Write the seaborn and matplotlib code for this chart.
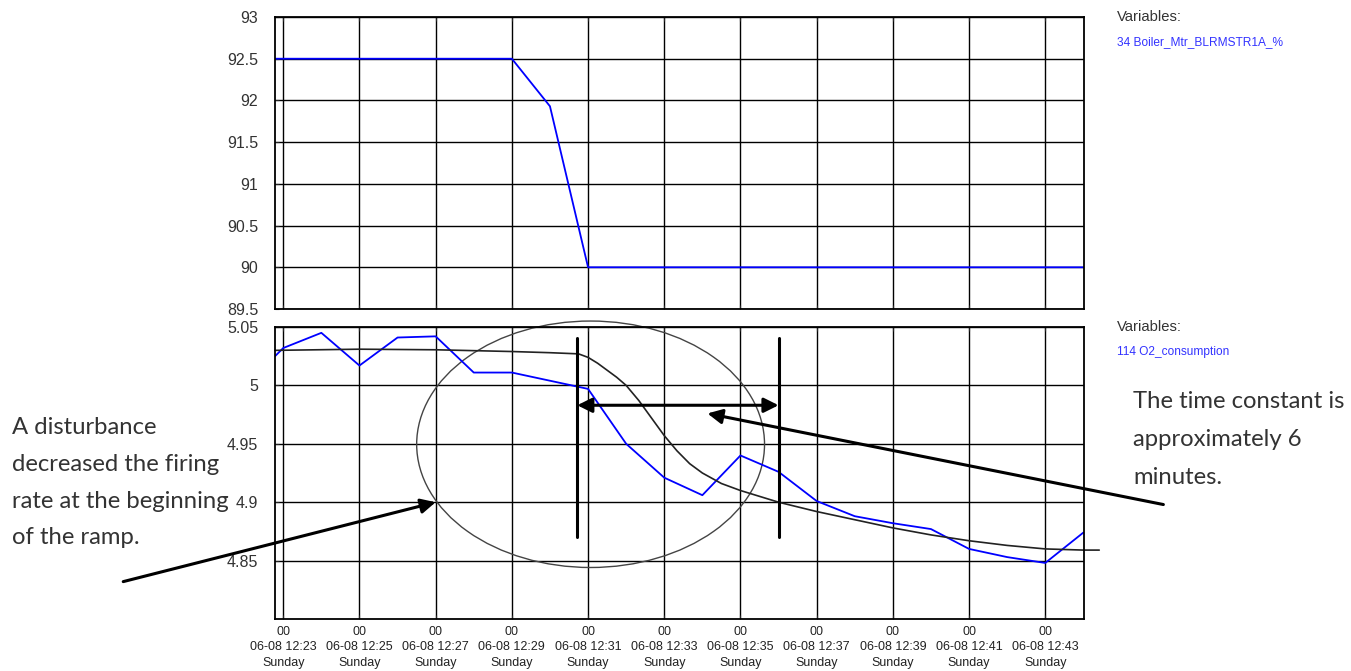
import pandas as pd
import matplotlib.pyplot as plt
import matplotlib.dates as mdates
from matplotlib.patches import Ellipse
import seaborn as sns

# sample times (one per minute, plus the left edge of the trend window)
sample_times = ["12:22:47", "12:23", "12:24", "12:25", "12:26", "12:27", "12:28", "12:29",
                "12:30", "12:31", "12:32", "12:33", "12:34", "12:35", "12:36", "12:37",
                "12:38", "12:39", "12:40", "12:41", "12:42", "12:43", "12:44"]
firing_rate = [92.5, 92.5, 92.5, 92.5, 92.5, 92.5, 92.5, 92.5,
               91.93, 90.0, 90.0, 90.0, 90.0, 90.0, 90.0, 90.0,
               90.0, 90.0, 90.0, 90.0, 90.0, 90.0, 90.0]
o2_consumption = [5.025, 5.032, 5.045, 5.017, 5.041, 5.042, 5.011, 5.011,
                  5.004, 4.997, 4.950, 4.921, 4.906, 4.940, 4.926, 4.901,
                  4.888, 4.882, 4.877, 4.860, 4.853, 4.848, 4.874]

# hand-drawn first-order response overlaid on the O2 trend
fit_times = ["12:22:47", "12:25", "12:27", "12:29", "12:30", "12:30:45", "12:31", "12:31:15",
             "12:31:30", "12:31:45", "12:32", "12:32:20", "12:32:40", "12:33", "12:33:20",
             "12:33:40", "12:34", "12:34:30", "12:35", "12:35:30", "12:36", "12:37", "12:38",
             "12:39", "12:40", "12:41", "12:42", "12:43", "12:44", "12:44:25"]
fit_values = [5.030, 5.031, 5.0305, 5.029, 5.028, 5.027, 5.024, 5.019,
              5.013, 5.007, 5.000, 4.987, 4.972, 4.957, 4.944,
              4.933, 4.925, 4.916, 4.910, 4.905, 4.900, 4.892, 4.885,
              4.878, 4.872, 4.867, 4.863, 4.860, 4.859, 4.859]

top_label = "34 Boiler_Mtr_BLRMSTR1A_%"
bottom_label = "114 O2_consumption"
left_note = ["A disturbance", "decreased the firing", "rate at the beginning", "of the ramp."]
right_note = ["The time constant is", "approximately 6", "minutes."]

DAY = "2014-06-08 "


def ts(t):
    return pd.Timestamp(DAY + t)


df = pd.DataFrame({"time": [ts(t) for t in sample_times],
                   "firing": firing_rate, "o2": o2_consumption})
fit_df = pd.DataFrame({"time": [ts(t) for t in fit_times], "fit": fit_values})

sns.set_style("white")
plt.rcParams["font.family"] = ["Liberation Sans", "DejaVu Sans"]

W, H = 1351, 671
fig = plt.figure(figsize=(W / 100, H / 100), dpi=100)


def fx(px):
    return px / W


def fy(py):
    return 1 - py / H


ax_top = fig.add_axes([fx(275), fy(309), fx(1084 - 275), (309 - 17) / H])
ax_bot = fig.add_axes([fx(275), fy(619), fx(1084 - 275), (619 - 327) / H], sharex=ax_top)

sns.lineplot(data=df, x="time", y="firing", ax=ax_top, color="#0000ff", lw=1.3)
sns.lineplot(data=df, x="time", y="o2", ax=ax_bot, color="#0000ff", lw=1.3)
sns.lineplot(data=fit_df, x="time", y="fit", ax=ax_bot, color="#222222", lw=1.2,
             sort=False, clip_on=False)

ax_top.set_xlim(ts("12:22:47"), ts("12:44:01"))
ax_top.set_ylim(89.5, 93)
ax_top.set_yticks([89.5, 90, 90.5, 91, 91.5, 92, 92.5, 93])
ax_top.set_yticklabels(["89.5", "90", "90.5", "91", "91.5", "92", "92.5", "93"])
ax_bot.set_ylim(4.8, 5.05)
ax_bot.set_yticks([4.85, 4.9, 4.95, 5.0, 5.05])
ax_bot.set_yticklabels(["4.85", "4.9", "4.95", "5", "5.05"])

ax_bot.xaxis.set_major_locator(mdates.MinuteLocator(byminute=range(23, 60, 2)))
ax_bot.xaxis.set_major_formatter(mdates.DateFormatter("%S\n%m-%d %H:%M\n%A"))

for ax in (ax_top, ax_bot):
    ax.set_xlabel("")
    ax.set_ylabel("")
    ax.grid(True, color="black", lw=1.0)
    for s in ax.spines.values():
        s.set_color("black")
        s.set_linewidth(1.3)
    ax.tick_params(axis="y", direction="in", length=3, pad=12, labelsize=11.5,
                   labelcolor="#333333", left=True)
    ax.tick_params(axis="x", direction="in", length=3, top=True, bottom=True)
plt.setp(ax_top.get_xticklabels(), visible=False)
ax_bot.tick_params(axis="x", pad=5, labelsize=9, labelcolor="#222222")
for lab in ax_bot.get_xticklabels():
    lab.set_linespacing(1.38)

# legends at the right
fig.text(fx(1117), fy(17), "Variables:", fontsize=10.6, color="#333333", va="center")
fig.text(fx(1117), fy(42), top_label, fontsize=8.6, color="#3333ff", va="center")
fig.text(fx(1117), fy(327), "Variables:", fontsize=10.6, color="#333333", va="center")
fig.text(fx(1117), fy(352), bottom_label, fontsize=8.6, color="#3333ff", va="center")

# annotation notes
for i, line in enumerate(left_note):
    fig.text(fx(12), fy(428 + 36.5 * i), line, fontsize=17.2, family=["Lato", "DejaVu Sans"],
             color="#333333", va="center")
for i, line in enumerate(right_note):
    fig.text(fx(1133), fy(402 + 37.5 * i), line, fontsize=17.2, family=["Lato", "DejaVu Sans"],
             color="#333333", va="center")


def dn(t):
    return mdates.date2num(ts(t))


# circle round the start of the ramp
ax_bot.add_patch(Ellipse((dn("12:31:04"), 4.9496), width=9.13 / 1440, height=0.211,
                         fill=False, ec="#444444", lw=1.0, clip_on=False))

# time-constant markers
for t in ("12:30:43", "12:36"):
    ax_bot.plot([dn(t), dn(t)], [4.870, 5.041], color="black", lw=2.2, clip_on=False)

ax_bot.annotate("", xy=(dn("12:30:43"), 4.983), xytext=(dn("12:36"), 4.983),
                arrowprops=dict(arrowstyle="<|-|>", lw=2.2, color="black", mutation_scale=22,
                                shrinkA=0, shrinkB=0), annotation_clip=False)
ax_bot.annotate("", xy=(dn("12:27"), 4.9), xytext=(dn("12:18:48"), 4.832),
                arrowprops=dict(arrowstyle="-|>", lw=2.2, color="black", mutation_scale=22,
                                shrinkA=0, shrinkB=0), annotation_clip=False)
ax_bot.annotate("", xy=(dn("12:34:08"), 4.976), xytext=(dn("12:46:06"), 4.898),
                arrowprops=dict(arrowstyle="-|>", lw=2.2, color="black", mutation_scale=22,
                                shrinkA=0, shrinkB=0), annotation_clip=False)

fig.savefig("out.png", dpi=100)
